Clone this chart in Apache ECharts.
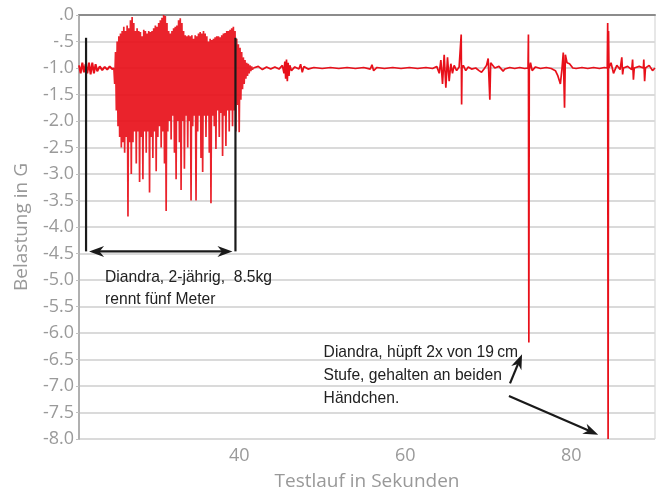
<!DOCTYPE html>
<html><head><meta charset="utf-8">
<script src="https://cdn.jsdelivr.net/npm/echarts@6/dist/echarts.min.js"></script>
<style>html,body{margin:0;padding:0;background:#fff}#c{width:663px;height:496px}</style>
</head><body><div id="c"></div>
<script>
// ---- tick labels ----
const xTickValues = [40, 60, 80];
const yTickLabels = ['.0','-.5','-1.0','-1.5','-2.0','-2.5','-3.0','-3.5','-4.0','-4.5','-5.0','-5.5','-6.0','-6.5','-7.0','-7.5','-8.0'];

// ---- quiet part before the run (seconds, G) ----
const preTimes = [20.7,20.9,21.1,21.3,21.5,21.7,21.9,22.1,22.3,22.5,22.7,22.9,23.2,23.5,23.8,24.1,24.4,24.7];
const preLoads = [-0.95,-1.1,-0.9,-1.08,-0.93,-1.1,-0.9,-1.12,-0.9,-1.1,-0.93,-1.06,-0.97,-1.04,-0.98,-1.03,-0.97,-1.02];

// ---- running burst, sampled every 0.1 s from 24.9 s ----
const burstStart = 24.9;
const burstStep = 0.1;
const burstLoads = [
 -1.0,-1.3,-0.7,-1.8,-0.5,-2.1,-0.4,-2.3,-0.35,-2.5,
 -0.3,-2.4,-0.22,-2.6,-0.3,-2.3,-0.2,-3.8,-0.25,-2.4,
 -0.1,-3.0,-0.04,-2.4,-0.15,-2.2,-0.3,-2.8,-0.25,-2.2,
 -0.3,-3.15,-0.32,-2.3,-0.4,-3.1,-0.28,-2.2,-0.3,-2.6,
 -0.35,-2.2,-0.3,-3.35,-0.32,-2.3,-0.3,-2.7,-0.25,-2.2,
 -0.2,-2.95,-0.22,-2.3,-0.15,-2.1,-0.1,-2.5,-0.05,-2.2,
 0.0,-2.8,-0.02,-3.7,-0.15,-2.2,-0.3,-2.0,-0.35,-2.35,
 -0.3,-1.9,-0.25,-2.6,-0.22,-3.1,-0.2,-2.0,-0.1,-2.4,
 -0.06,-3.3,-0.15,-2.0,-0.3,-2.9,-0.38,-1.9,-0.4,-2.5,
 -0.38,-2.0,-0.4,-3.5,-0.38,-2.1,-0.45,-1.9,-0.38,-3.5,
 -0.4,-2.2,-0.35,-1.9,-0.32,-2.7,-0.35,-2.96,-0.3,-1.9,
 -0.35,-2.3,-0.4,-1.9,-0.5,-2.6,-0.45,-3.55,-0.47,-1.9,
 -0.45,-2.1,-0.42,-2.53,-0.4,-1.8,-0.4,-2.3,-0.42,-1.85,
 -0.38,-2.66,-0.35,-1.9,-0.34,-2.47,-0.3,-1.8,-0.3,-2.2,
 -0.28,-1.8,-0.25,-2.1,-0.22,-1.8,-0.3,-2.2,-0.45,-1.7,
 -0.55,-2.21,-0.62,-1.6,-0.7,-1.4,-0.8,-1.3,-0.85,-1.2,
 -0.9,-1.15,-0.92,-1.1,-0.95,-1.06,-0.97,-1.03,-1.0
];

// ---- after the run: jumps (seconds, G) ----
const postTimes = [41.8,42.3,42.8,43.3,43.8,44.3,44.8,45.2,45.4,45.5,45.6,45.7,45.8,45.9,46.0,46.1,46.3,46.7,47.2,47.4,47.6,47.8,48.3,49,50,51,52,53,54,55,55.8,56.0,56.2,56.6,57.5,58.5,59.5,60.5,61.5,62.5,63.3,63.8,64.1,64.3,64.5,64.7,64.9,65.1,65.3,65.5,65.7,65.9,66.2,66.5,66.7,66.75,66.8,66.85,67.0,67.3,67.6,68.0,68.5,68.9,69.2,69.5,69.8,70.0,70.1,70.2,70.3,70.5,70.8,71.3,71.8,72.0,72.6,73.2,73.8,74.4,74.8,74.85,74.9,74.95,75.1,75.3,75.7,76.3,77,77.6,78.1,78.4,78.7,78.9,79.05,79.2,79.3,79.5,79.8,80.2,80.6,81.3,82,82.7,83.4,84.0,84.35,84.4,84.45,84.5,84.55,84.8,85.1,85.5,85.9,86.1,86.2,86.3,86.8,87.3,87.4,87.5,87.6,88.2,88.7,88.75,88.85,88.95,89.4,89.8,90.1];
const postLoads = [-1.0,-0.97,-1.03,-0.98,-1.02,-0.98,-1.02,-0.95,-1.1,-0.88,-1.2,-0.84,-1.25,-0.9,-1.15,-0.95,-1.05,-0.98,-1.02,-0.93,-1.08,-0.97,-1.02,-0.99,-1.01,-0.99,-1.01,-0.99,-1.01,-0.99,-1.02,-0.94,-1.05,-0.99,-1.01,-0.99,-1.01,-0.99,-1.01,-0.99,-1.01,-0.97,-1.1,-0.85,-1.3,-0.75,-1.37,-0.8,-1.25,-0.92,-1.1,-0.95,-1.05,-0.98,-1.0,-0.37,-1.69,-1.0,-0.95,-1.05,-0.98,-1.02,-1.0,-1.05,-1.08,-1.02,-0.95,-0.82,-0.8,-1.6,-0.9,-0.92,-1.0,-0.97,-1.06,-1.02,-0.99,-1.01,-0.99,-1.01,-1.0,-0.37,-6.18,-1.05,-0.9,-1.05,-0.98,-1.01,-0.99,-1.01,-1.05,-1.15,-1.3,-1.0,-0.71,-1.75,-0.75,-0.9,-0.92,-1.0,-1.01,-0.99,-1.01,-0.99,-1.01,-0.99,-1.0,-0.15,-8.0,-0.3,-1.0,-0.9,-1.1,-0.95,-1.03,-0.8,-1.12,-1.0,-0.97,-1.03,-0.84,-1.22,-1.0,-0.97,-1.0,-0.84,-1.25,-1.0,-0.95,-1.05,-1.0];

// ---- annotation anchors (data coordinates) ----
const runFrom = 21.55, runTo = 39.55, bracketTop = -0.43, bracketBottom = -4.46;
const runText = 'Diandra, 2-jährig,  8.5kg\nrennt fünf Meter';
const jumpText = 'Diandra, hüpft 2x von 19\u2009cm\nStufe, gehalten an beiden\nHändchen.';

const prePts = preTimes.map((t, i) => [t, preLoads[i]]);
const burstPts = burstLoads.map((v, i) => [+(burstStart + i * burstStep).toFixed(2), v]);
const postPts = postTimes.map((t, i) => [t, postLoads[i]]);

const chart = echarts.init(document.getElementById('c'), null, {renderer: 'canvas'});
const axisFont = '"Open Sans", "Noto Sans", sans-serif';
const red = '#e8101a';
chart.setOption({
  animation: false,
  backgroundColor: '#fff',
  grid: {left: 79, right: 8, top: 15, bottom: 54, show: true, borderColor: '#cfcfcf', borderWidth: 1},
  xAxis: {
    type: 'value', min: 20.7, max: 90.1,
    name: 'Testlauf in Sekunden', nameLocation: 'middle', nameGap: 33,
    nameTextStyle: {color: '#999', fontSize: 19, fontFamily: axisFont},
    axisLine: {show: true, lineStyle: {color: '#8c8c8c', width: 2}},
    axisTick: {show: false},
    splitLine: {show: false},
    axisLabel: {customValues: xTickValues, color: '#9a9a9a', fontSize: 18, fontFamily: axisFont, margin: 8}
  },
  yAxis: {
    type: 'value', min: -8, max: 0, interval: 0.5,
    name: 'Belastung in G', nameLocation: 'middle', nameGap: 48,
    nameTextStyle: {color: '#999', fontSize: 19, fontFamily: axisFont},
    axisLine: {show: true, lineStyle: {color: '#b0b0b0', width: 2}},
    axisTick: {show: true, length: 3, lineStyle: {color: '#c0c0c0'}},
    splitLine: {show: true, lineStyle: {color: '#dadada', width: 2}},
    axisLabel: {color: '#9a9a9a', fontSize: 18, fontFamily: axisFont, margin: 5,
      formatter: v => yTickLabels[Math.round(-v / 0.5)] }
  },
  series: [
    {type: 'line', data: prePts.concat([burstPts[0]]), showSymbol: false, symbol: 'none', lineStyle: {color: red, width: 2}, z: 3},
    {type: 'line', data: burstPts, showSymbol: false, symbol: 'none', lineStyle: {color: red, width: 1.7, opacity: 0.92}, z: 3},
    {type: 'line', data: [burstPts[burstPts.length - 1]].concat(postPts), showSymbol: false, symbol: 'none', lineStyle: {color: red, width: 1.7}, z: 3}
  ]
});

function px(t, v) { return chart.convertToPixel({gridIndex: 0}, [t, v]); }
function head(tip, from, len, half) {
  const dx = tip[0] - from[0], dy = tip[1] - from[1];
  const d = Math.hypot(dx, dy), ux = dx / d, uy = dy / d;
  const bx = tip[0] - ux * len, by = tip[1] - uy * len;
  return {type: 'polygon', shape: {points: [tip, [bx - uy * half, by + ux * half], [tip[0] - ux * len * 0.7, tip[1] - uy * len * 0.7], [bx + uy * half, by - ux * half]]}, style: {fill: '#1a1a1a'}, z: 10};
}
function arrowLine(a, b, both) {
  const dx = b[0] - a[0], dy = b[1] - a[1], d = Math.hypot(dx, dy), ux = dx / d, uy = dy / d;
  const a2 = both ? [a[0] + ux * 8, a[1] + uy * 8] : a;
  const b2 = [b[0] - ux * 8, b[1] - uy * 8];
  const out = [{type: 'line', shape: {x1: a2[0], y1: a2[1], x2: b2[0], y2: b2[1]}, style: {stroke: '#1a1a1a', lineWidth: 2.2}, z: 10}];
  out.push(head(b, a, 15, 5.5));
  if (both) out.push(head(a, b, 15, 5.5));
  return out;
}
const L1 = px(runFrom, bracketTop), L2 = px(runFrom, bracketBottom);
const R1 = px(runTo, bracketTop), R2 = px(runTo, bracketBottom);
const g = [];
g.push({type: 'line', shape: {x1: L1[0], y1: L1[1], x2: L2[0], y2: L2[1]}, style: {stroke: '#1a1a1a', lineWidth: 2.2}, z: 10});
g.push({type: 'line', shape: {x1: R1[0], y1: R1[1], x2: R2[0], y2: R2[1]}, style: {stroke: '#1a1a1a', lineWidth: 2.2}, z: 10});
g.push(...arrowLine([L2[0] + 3, L2[1]], [R2[0] - 3, R2[1]], true));
const txtFont = '"Liberation Sans", Arial, sans-serif';
const t1 = px(23.84, -4.74);
g.push({type: 'text', x: t1[0], y: t1[1], scaleX: 0.92, style: {text: runText, font: '17px ' + txtFont, fill: '#222', lineHeight: 22}, z: 10});
const t2 = px(50.17, -6.15);
g.push({type: 'text', x: t2[0], y: t2[1], scaleX: 0.92, style: {text: jumpText, font: '17px ' + txtFont, fill: '#222', lineHeight: 23}, z: 10});
g.push(...arrowLine(px(72.63, -6.95), px(74.08, -6.4), false));
g.push(...arrowLine(px(72.5, -7.19), px(83.26, -7.92), false));
chart.setOption({graphic: g});
</script></body></html>
